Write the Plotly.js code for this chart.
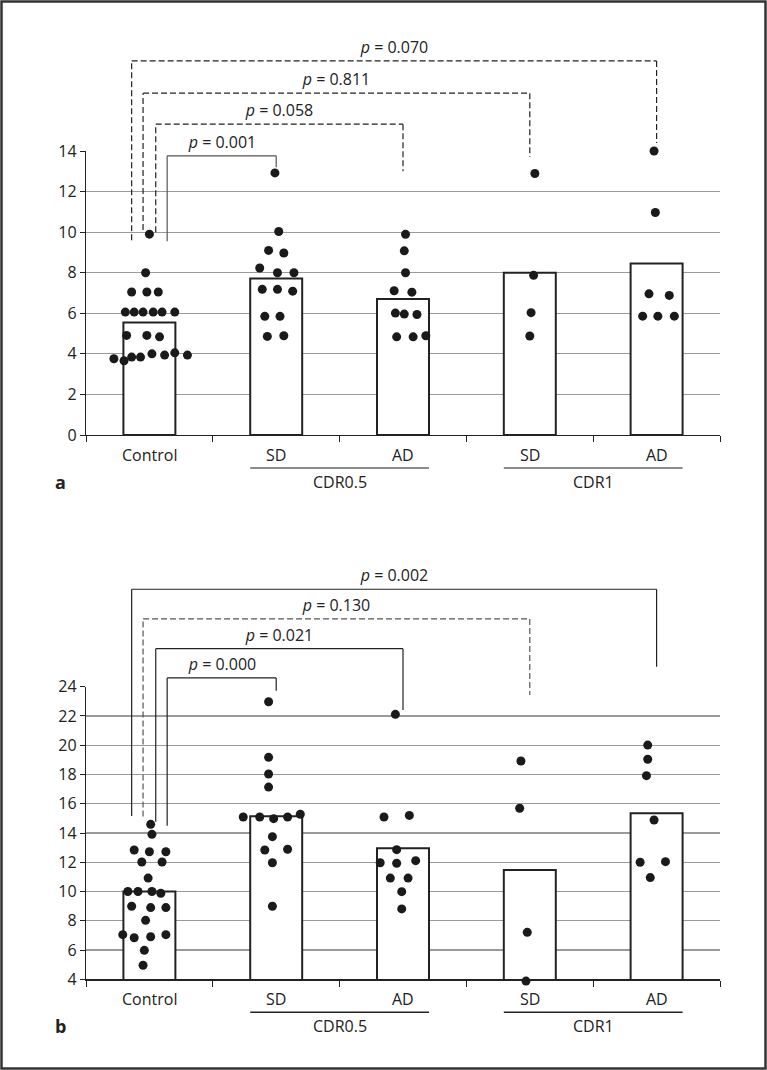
<!DOCTYPE html>
<html>
<head>
<meta charset="utf-8">
<script src="https://cdn.plot.ly/plotly-3.0.1.min.js"></script>
<style>
  html, body { margin: 0; padding: 0; background: #fff; }
  #chart { width: 767px; height: 1070px; }
</style>
</head>
<body>
<div id="chart"></div>
<script>
// category labels
const categories = ['Control', 'SD', 'AD', 'SD', 'AD'];
const groupLabels = ['CDR0.5', 'CDR1'];

// bar heights (group means)
const barA = [5.55, 7.72, 6.71, 8.0, 8.46];
const barB = [10.0, 15.14, 12.95, 11.47, 15.35];

// panel a individual values + horizontal jitter (category units)
const aCtrl = [9.9, 8.0, 7.05, 7.05, 7.05, 6.06, 6.06, 6.06, 6.06, 6.06, 6.06, 4.91, 4.91, 4.84, 3.76, 3.66, 3.84, 3.84, 4.0, 3.94, 4.05, 3.94];
const aCtrlJ = [0, -0.03, -0.14, -0.02, 0.07, -0.19, -0.12, -0.05, 0.03, 0.10, 0.20, -0.18, -0.02, 0.08, -0.28, -0.20, -0.14, -0.07, 0.02, 0.12, 0.20, 0.30];
const aSD05 = [12.92, 10.03, 9.1, 8.97, 8.23, 8.0, 8.0, 7.18, 7.18, 7.09, 5.85, 5.85, 4.86, 4.89];
const aSD05J = [-0.01, 0.02, -0.06, 0.06, -0.13, 0.01, 0.14, -0.11, 0.01, 0.13, -0.09, 0.03, -0.07, 0.06];
const aAD05 = [9.89, 9.08, 8.0, 7.11, 7.04, 6.01, 5.96, 5.94, 4.84, 4.84, 4.89];
const aAD05J = [0.02, 0.01, 0.02, -0.07, 0.07, -0.06, 0.01, 0.11, -0.05, 0.08, 0.18];
const aSD1 = [12.89, 7.87, 6.03, 4.88];
const aSD1J = [0.04, 0.03, 0.01, 0.0];
const aAD1 = [14.0, 10.97, 6.96, 6.88, 5.86, 5.86, 5.86];
const aAD1J = [-0.02, -0.01, -0.06, 0.10, -0.11, 0.01, 0.14];

// panel b individual values + jitter
const bCtrl = [14.59, 13.91, 12.84, 12.72, 12.72, 12.02, 12.02, 10.92, 10.0, 10.0, 10.0, 9.88, 8.99, 8.9, 8.9, 8.03, 7.05, 6.84, 6.91, 7.05, 5.98, 4.96];
const bCtrlJ = [0.01, 0.02, -0.12, 0.0, 0.13, -0.06, 0.10, -0.01, -0.17, -0.09, 0.02, 0.09, -0.14, 0.01, 0.13, -0.03, -0.21, -0.12, 0.01, 0.13, -0.04, -0.05];
const bSD05 = [22.97, 19.17, 18.03, 17.14, 15.09, 15.09, 14.98, 15.09, 15.28, 13.75, 12.84, 12.89, 11.97, 8.99];
const bSD05J = [-0.06, -0.06, -0.06, -0.06, -0.26, -0.13, -0.02, 0.09, 0.19, -0.03, -0.09, 0.09, -0.03, -0.03];
const bAD05 = [22.11, 15.09, 15.2, 12.86, 11.97, 11.93, 12.11, 10.92, 10.92, 9.99, 8.81];
const bAD05J = [-0.06, -0.15, 0.05, -0.05, -0.18, -0.05, 0.10, -0.10, 0.04, -0.01, -0.01];
const bSD1 = [18.92, 15.69, 7.21, 3.88];
const bSD1J = [-0.07, -0.08, -0.02, -0.03];
const bAD1 = [20.01, 19.04, 17.92, 14.89, 12.0, 12.04, 10.95];
const bAD1J = [-0.07, -0.07, -0.08, -0.02, -0.13, 0.07, -0.05];

// p values for the comparison brackets
const pA = ['0.001', '0.058', '0.811', '0.070'];
const pB = ['0.000', '0.021', '0.130', '0.002'];

// bracket geometry (x in category units, heights in axis units)
const bracketA = [
    { x0: 0.14, x1: 1, top: 13.76, left: 9.55, right: 13.2, dash: 'solid', color: '#555' },
    { x0: 0.05, x1: 2, top: 15.32, left: 10.0, right: 13.0, dash: '6px,3px', color: '#222' },
    { x0: -0.05, x1: 3, top: 16.85, left: 10.1, right: 13.7, dash: '6px,3px', color: '#222' },
    { x0: -0.14, x1: 4, top: 18.44, left: 9.6, right: 14.4, dash: '6px,3px', color: '#222' }
];
const bracketB = [
    { x0: 0.14, x1: 1, top: 24.6, left: 14.5, right: 23.73, dash: 'solid', color: '#222' },
    { x0: 0.05, x1: 2, top: 26.6, left: 14.77, right: 22.41, dash: 'solid', color: '#222' },
    { x0: -0.05, x1: 3, top: 28.63, left: 15.12, right: 23.43, dash: '6px,3px', color: '#555' },
    { x0: -0.14, x1: 4, top: 30.66, left: 15.16, right: 25.37, dash: 'solid', color: '#222' }
];

const W = 767, H = 1070;
const xDomain = [86 / W, 720 / W];
const yDomA = [(H - 435) / H, (H - 151) / H];
const yDomB = [(H - 979.3) / H, (H - 686.7) / H];
const xRange = [-0.5, 4.5];
const yRangeA = [0, 14];
const yRangeB = [4, 24];
const FONT = 'Open Sans, Noto Sans, sans-serif';
const FS = 16;
const barWidth = 0.41;

// invisible twin axis with the same scale but a few px of headroom,
// so dots sitting on the axis edge are not hidden
function padAxis(dom, range, anchor) {
    const pad = 8;
    const pxPerUnit = (dom[1] - dom[0]) * H / (range[1] - range[0]);
    return {
        anchor: anchor, visible: false, fixedrange: true,
        domain: [dom[0] - pad / H, dom[1] + pad / H],
        range: [range[0] - pad / pxPerUnit, range[1] + pad / pxPerUnit]
    };
}

function pointsTrace(groups, jitters, xa, ya) {
    const x = [], y = [];
    groups.forEach((vals, i) => {
        vals.forEach((v, k) => { x.push(i + jitters[i][k]); y.push(v); });
    });
    return {
        x: x, y: y, xaxis: xa, yaxis: ya,
        type: 'scatter', mode: 'markers', cliponaxis: false,
        marker: { size: 9, color: '#1a1a1a' },
        hoverinfo: 'skip', showlegend: false
    };
}

function barTrace(vals, xa, ya) {
    return {
        x: vals.map((v, i) => i), y: vals, xaxis: xa, yaxis: ya,
        type: 'bar', width: barWidth,
        marker: { color: '#fff', line: { color: '#222', width: 2 } },
        hoverinfo: 'skip', showlegend: false
    };
}

const data = [
    barTrace(barA, 'x', 'y'),
    barTrace(barB, 'x2', 'y2'),
    pointsTrace([aCtrl, aSD05, aAD05, aSD1, aAD1], [aCtrlJ, aSD05J, aAD05J, aSD1J, aAD1J], 'x', 'y3'),
    pointsTrace([bCtrl, bSD05, bAD05, bSD1, bAD1], [bCtrlJ, bSD05J, bAD05J, bSD1J, bAD1J], 'x2', 'y4')
];

const shapes = [];
const annotations = [];

const xd = v => (v - xRange[0]) / (xRange[1] - xRange[0]);

function addPanel(br, pv, yRange, xa, ya, dom, letter) {
    const yd = v => (v - yRange[0]) / (yRange[1] - yRange[0]);
    const xref = xa + ' domain', yref = ya + ' domain';
    const plotH = (dom[1] - dom[0]) * H;
    const font = { family: FONT, size: FS, color: '#222' };
    br.forEach((b, i) => {
        const line = { color: b.color, width: 1.2, dash: b.dash };
        shapes.push({ type: 'line', xref, yref, x0: xd(b.x0), x1: xd(b.x0), y0: yd(b.left), y1: yd(b.top), line });
        shapes.push({ type: 'line', xref, yref, x0: xd(b.x0), x1: xd(b.x1), y0: yd(b.top), y1: yd(b.top), line });
        shapes.push({ type: 'line', xref, yref, x0: xd(b.x1), x1: xd(b.x1), y0: yd(b.top), y1: yd(b.right), line });
        annotations.push({
            xref, yref, x: xd((b.x0 + b.x1) / 2), y: yd(b.top), yshift: 14,
            xanchor: 'center', yanchor: 'middle',
            text: '<i>p</i> = ' + pv[i], showarrow: false,
            bgcolor: '#fff', borderpad: 0, width: 82, font
        });
    });
    // category labels
    categories.forEach((c, i) => {
        annotations.push({
            xref, yref, x: xd(i), y: 0, yshift: -20, xanchor: 'center', yanchor: 'middle',
            text: c, showarrow: false, font
        });
    });
    // group underlines and labels
    groupLabels.forEach((g, k) => {
        const a = 1 + 2 * k, b = 2 + 2 * k;
        shapes.push({
            type: 'line', xref, yref,
            x0: xd(a - barWidth / 2), x1: xd(b + barWidth / 2),
            y0: -33 / plotH, y1: -33 / plotH,
            line: { color: letter === 'a' ? '#666' : '#222', width: 1.6 }
        });
        annotations.push({
            xref, yref, x: xd((a + b) / 2), y: 0, yshift: -47, xanchor: 'center', yanchor: 'middle',
            text: g, showarrow: false, font
        });
    });
    annotations.push({
        xref: 'paper', yref, x: 60 / W, y: 0, yshift: -47, xanchor: 'center', yanchor: 'middle',
        text: '<b>' + letter + '</b>', showarrow: false, font: { family: FONT, size: 18, color: '#222' }
    });
}

addPanel(bracketA, pA, yRangeA, 'x', 'y', yDomA, 'a');
addPanel(bracketB, pB, yRangeB, 'x2', 'y2', yDomB, 'b');

// outer frame
shapes.push({
    type: 'rect', xref: 'paper', yref: 'paper',
    x0: 1.5 / W, x1: 1 - 1.5 / W, y0: 1.5 / H, y1: 1 - 1.5 / H,
    line: { color: '#333', width: 2.5 }
});

const xAxisBase = {
    domain: xDomain, range: xRange, fixedrange: true,
    showgrid: false, zeroline: false,
    showline: true, linecolor: '#222', linewidth: 1.2,
    ticks: 'outside', ticklen: 6, tickcolor: '#222', tickwidth: 1,
    tickvals: [-0.5, 0.5, 1.5, 2.5, 3.5, 4.5], showticklabels: false
};

function yAxisBase(dom, range) {
    return {
        domain: dom, range: range, fixedrange: true,
        tickmode: 'linear', tick0: range[0], dtick: 2,
        showgrid: true, gridcolor: '#9a9a9a', gridwidth: 1.2, zeroline: false,
        showline: true, linecolor: '#222', linewidth: 1.2,
        ticks: 'outside', ticklen: 5, tickcolor: '#222',
        tickfont: { family: FONT, size: FS, color: '#222' }
    };
}

const layout = {
    width: W, height: H,
    margin: { t: 0, r: 0, l: 0, b: 0 },
    paper_bgcolor: '#fff', plot_bgcolor: 'rgba(0,0,0,0)',
    showlegend: false,
    xaxis: Object.assign({ anchor: 'y' }, xAxisBase),
    yaxis: Object.assign({ anchor: 'x' }, yAxisBase(yDomA, yRangeA)),
    xaxis2: Object.assign({ anchor: 'y2' }, xAxisBase),
    yaxis2: Object.assign({ anchor: 'x2' }, yAxisBase(yDomB, yRangeB)),
    yaxis3: padAxis(yDomA, yRangeA, 'x'),
    yaxis4: padAxis(yDomB, yRangeB, 'x2'),
    shapes: shapes,
    annotations: annotations
};

const config = { displayModeBar: false, staticPlot: true };

Plotly.newPlot('chart', data, layout, config);
</script>
</body>
</html>
